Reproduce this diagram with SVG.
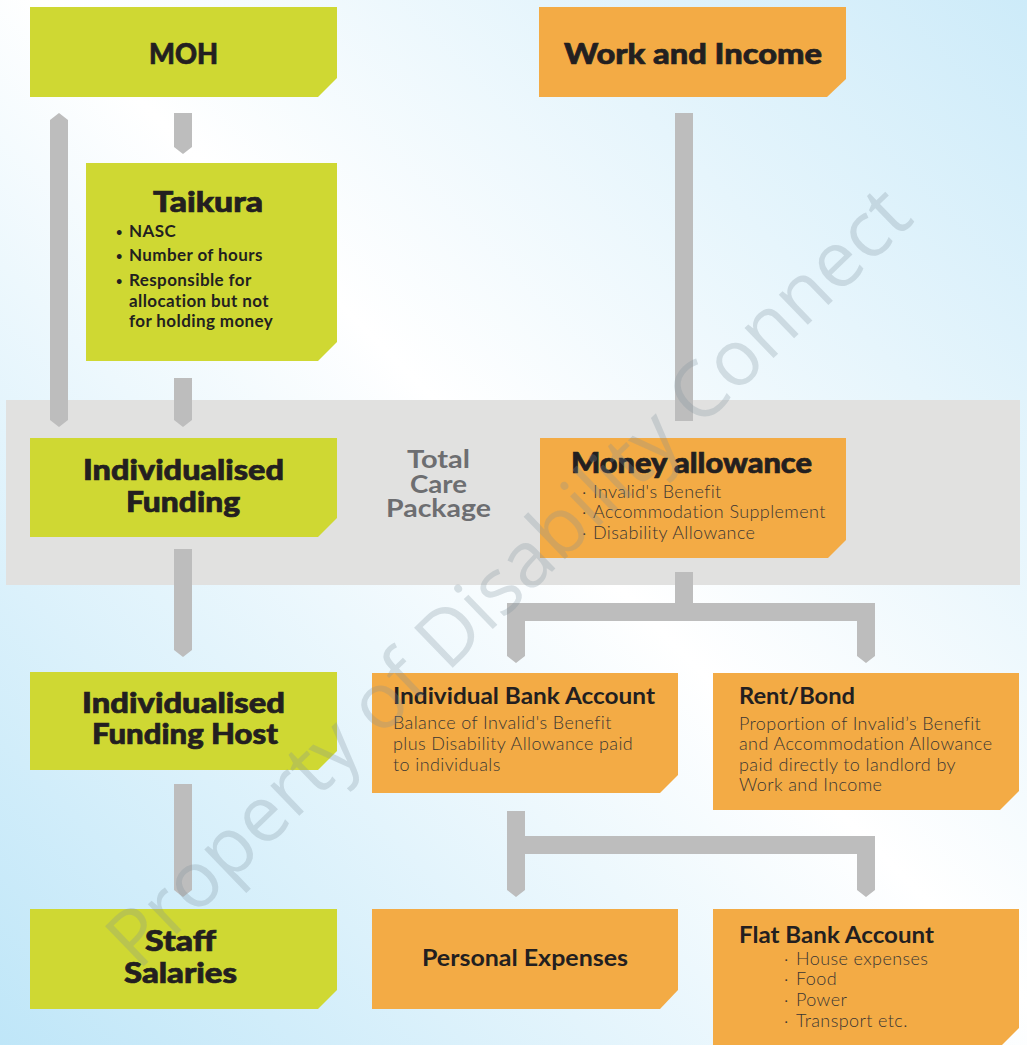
<svg xmlns="http://www.w3.org/2000/svg" width="1027" height="1045" viewBox="0 0 1027 1045">
  <defs>
    <linearGradient id="bg" x1="0" y1="1" x2="1" y2="0">
      <stop offset="0" stop-color="#bfe6f8"/>
      <stop offset="0.52" stop-color="#ffffff"/>
      <stop offset="1" stop-color="#cdebf9"/>
    </linearGradient>
    <style>
      .green { fill: #cfd833; }
      .orange { fill: #f3ab45; }
      .bar { fill: #bdbdbd; }
      .head { font-family: Lato, "Open Sans", "Liberation Sans", sans-serif; font-weight: 900; fill: #231f20; stroke: #231f20; stroke-width: 0.7px; text-anchor: middle; }
      .sub { font-family: Lato, "Open Sans", "Liberation Sans", sans-serif; font-weight: 700; fill: #231f20; }
      .bul { font-family: Lato, "Open Sans", "Liberation Sans", sans-serif; font-weight: 700; fill: #231f20; font-size: 17px; letter-spacing: 0.4px; }
      .body { font-family: Lato, "Open Sans", "Liberation Sans", sans-serif; font-weight: 300; fill: #3a3633; font-size: 18px; letter-spacing: 0.4px; }
      .pkg { font-family: Lato, "Open Sans", "Liberation Sans", sans-serif; font-weight: 700; fill: #6d6e71; font-size: 24px; text-anchor: middle; }
      .mark { font-family: "Open Sans", "Liberation Sans", sans-serif; font-weight: 400; font-size: 78px; fill: #7f919b; fill-opacity: 0.27; text-anchor: middle; }
    </style>
  </defs>

  <!-- background wash -->
  <rect x="0" y="0" width="1027" height="1045" fill="url(#bg)"/>

  <!-- Total Care Package band -->
  <g id="total-care-package">
    <rect x="6" y="400" width="1014" height="185" fill="#e1e1e0"/>
    <text class="pkg" x="438.5" y="468" textLength="63" lengthAdjust="spacingAndGlyphs">Total</text>
    <text class="pkg" x="438.5" y="493" textLength="57" lengthAdjust="spacingAndGlyphs">Care</text>
    <text class="pkg" x="438.5" y="517" textLength="105" lengthAdjust="spacingAndGlyphs">Package</text>
  </g>

  <!-- connectors -->
  <g id="connectors" class="bar">
    <polygon points="59,113 68,120 68,420 59,427 50,420 50,120"/>
    <polygon points="174,113 192,113 192,147 183,154 174,147"/>
    <polygon points="174,378 192,378 192,420 183,427 174,420"/>
    <polygon points="174,549 192,549 192,650 183,657 174,650"/>
    <polygon points="174,784 192,784 192,890 183,897 174,890"/>
    <rect x="675" y="113" width="18" height="308"/>
    <polygon points="675,572 693,572 693,603 875,603 875,656 866,663 857,656 857,621 525,621 525,656 516,663 507,656 507,603 675,603"/>
    <polygon points="507,811 525,811 525,836 875,836 875,890 866,897 857,890 857,854 525,854 525,890 516,897 507,890"/>
  </g>

  <!-- MOH side -->
  <g id="moh">
    <path class="green" d="M30,7 H337 V78 L318,97 H30 Z"/>
    <text class="head" x="183.5" y="64" font-size="29" textLength="69" lengthAdjust="spacingAndGlyphs">MOH</text>
  </g>

  <g id="taikura">
    <path class="green" d="M86,163 H337 V342 L318,361 H86 Z"/>
    <text class="head" x="208" y="212" font-size="28" textLength="110" lengthAdjust="spacingAndGlyphs">Taikura</text>
    <g class="bul">
      <text x="116" y="236" font-size="11">•</text><text x="129" y="237">NASC</text>
      <text x="116" y="260" font-size="11">•</text><text x="129" y="261">Number of hours</text>
      <text x="116" y="285" font-size="11">•</text><text x="129" y="286">Responsible for</text>
      <text x="129" y="307">allocation but not</text>
      <text x="129" y="327">for holding money</text>
    </g>
  </g>

  <g id="individualised-funding">
    <path class="green" d="M30,438 H337 V518 L318,537 H30 Z"/>
    <text class="head" x="183.5" y="480" font-size="28" textLength="201" lengthAdjust="spacingAndGlyphs">Individualised</text>
    <text class="head" x="183" y="512" font-size="28" textLength="114" lengthAdjust="spacingAndGlyphs">Funding</text>
  </g>

  <g id="individualised-funding-host">
    <path class="green" d="M30,672 H337 V751 L318,770 H30 Z"/>
    <text class="head" x="183.5" y="713" font-size="28" textLength="203" lengthAdjust="spacingAndGlyphs">Individualised</text>
    <text class="head" x="185" y="744" font-size="28" textLength="186" lengthAdjust="spacingAndGlyphs">Funding Host</text>
  </g>

  <g id="staff-salaries">
    <path class="green" d="M30,909 H337 V990 L318,1009 H30 Z"/>
    <text class="head" x="180.5" y="951" font-size="28" textLength="71" lengthAdjust="spacingAndGlyphs">Staff</text>
    <text class="head" x="180.5" y="983" font-size="28" textLength="113" lengthAdjust="spacingAndGlyphs">Salaries</text>
  </g>

  <!-- Work and Income side -->
  <g id="work-and-income">
    <path class="orange" d="M539,7 H846 V79 L827,97 H539 Z"/>
    <text class="head" x="693" y="64" font-size="29" textLength="258" lengthAdjust="spacingAndGlyphs">Work and Income</text>
  </g>

  <g id="money-allowance">
    <path class="orange" d="M540,438 H846 V540 L828,558 H540 Z"/>
    <text class="head" x="691.5" y="473" font-size="28" textLength="241" lengthAdjust="spacingAndGlyphs">Money allowance</text>
    <g class="body">
      <text x="582" y="498">·</text><text x="593" y="498">Invalid's Benefit</text>
      <text x="582" y="518">·</text><text x="593" y="518">Accommodation Supplement</text>
      <text x="582" y="539">·</text><text x="593" y="539">Disability Allowance</text>
    </g>
  </g>

  <g id="individual-bank-account">
    <path class="orange" d="M372,673 H678 V775 L660,793 H372 Z"/>
    <text class="sub" x="393" y="704" font-size="22" textLength="262" lengthAdjust="spacingAndGlyphs">Individual Bank Account</text>
    <g class="body">
      <text x="393" y="729">Balance of Invalid's Benefit</text>
      <text x="393" y="750">plus Disability Allowance paid</text>
      <text x="393" y="771">to individuals</text>
    </g>
  </g>

  <g id="rent-bond">
    <path class="orange" d="M713,673 H1019 V791 L1000,810 H713 Z"/>
    <text class="sub" x="739" y="704" font-size="22" textLength="116" lengthAdjust="spacingAndGlyphs">Rent/Bond</text>
    <g class="body">
      <text x="739" y="730">Proportion of Invalid’s Benefit</text>
      <text x="739" y="750">and Accommodation Allowance</text>
      <text x="739" y="771">paid directly to landlord by</text>
      <text x="739" y="791">Work and Income</text>
    </g>
  </g>

  <g id="personal-expenses">
    <path class="orange" d="M372,909 H678 V990 L660,1009 H372 Z"/>
    <text class="sub" x="525" y="966" font-size="22" text-anchor="middle" textLength="206" lengthAdjust="spacingAndGlyphs">Personal Expenses</text>
  </g>

  <g id="flat-bank-account">
    <path class="orange" d="M713,909 H1019 V1028 L1002,1045 H713 Z"/>
    <text class="sub" x="739" y="943" font-size="22" textLength="195" lengthAdjust="spacingAndGlyphs">Flat Bank Account</text>
    <g class="body">
      <text x="784" y="965">·</text><text x="796" y="965">House expenses</text>
      <text x="784" y="985">·</text><text x="796" y="985">Food</text>
      <text x="784" y="1006">·</text><text x="796" y="1006">Power</text>
      <text x="784" y="1027">·</text><text x="796" y="1027">Transport etc.</text>
    </g>
  </g>

  <!-- ownership watermark -->
  <text class="mark" transform="translate(527,596) rotate(-44)">Property of Disability Connect</text>
</svg>
